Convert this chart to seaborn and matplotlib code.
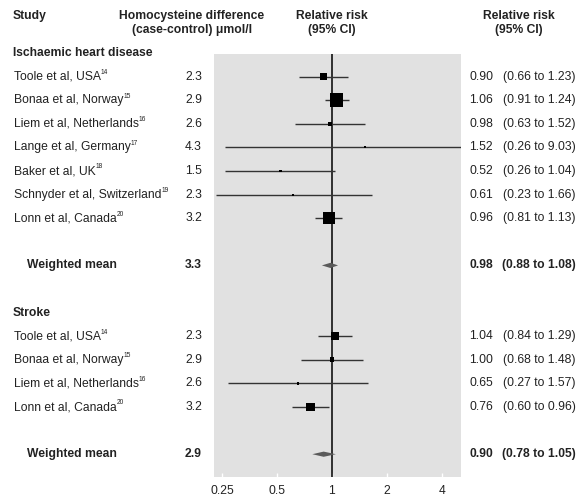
import numpy as np
import pandas as pd
import seaborn as sns
import matplotlib.pyplot as plt
import matplotlib.font_manager as fm
from matplotlib.transforms import blended_transform_factory

# ---- data ----
ihd_studies = ["Toole et al, USA", "Bonaa et al, Norway", "Liem et al, Netherlands",
               "Lange et al, Germany", "Baker et al, UK", "Schnyder et al, Switzerland",
               "Lonn et al, Canada"]
ihd_refs = ["14", "15", "16", "17", "18", "19", "20"]
ihd_diff = [2.3, 2.9, 2.6, 4.3, 1.5, 2.3, 3.2]
ihd_rr = [0.90, 1.06, 0.98, 1.52, 0.52, 0.61, 0.96]
ihd_lo = [0.66, 0.91, 0.63, 0.26, 0.26, 0.23, 0.81]
ihd_hi = [1.23, 1.24, 1.52, 9.03, 1.04, 1.66, 1.13]
ihd_mean = [3.3, 0.98, 0.88, 1.08]

stroke_studies = ["Toole et al, USA", "Bonaa et al, Norway", "Liem et al, Netherlands",
                  "Lonn et al, Canada"]
stroke_refs = ["14", "15", "16", "20"]
stroke_diff = [2.3, 2.9, 2.6, 3.2]
stroke_rr = [1.04, 1.00, 0.65, 0.76]
stroke_lo = [0.84, 0.68, 0.27, 0.60]
stroke_hi = [1.29, 1.48, 1.57, 0.96]
stroke_mean = [2.9, 0.90, 0.78, 1.05]

ticks = [0.25, 0.5, 1, 2, 4]
tick_labels = ["0.25", "0.5", "1", "2", "4"]

# box side in pixels (study weight)
ihd_box = [7, 13.5, 4, 2, 2.5, 2, 11.5]
stroke_box = [8, 4.7, 2.5, 8.5]


def pick_font():
    names = {f.name for f in fm.fontManager.ttflist}
    for n in ["Liberation Sans Narrow", "DejaVu Sans Condensed", "Liberation Sans"]:
        if n in names:
            return n
    return "DejaVu Sans"


sns.set_style("white")
FONT = pick_font()
plt.rcParams["font.family"] = [FONT, "DejaVu Sans"]
FS = 10 if "Narrow" in FONT else 8.7

# rows: header, studies, blank, mean, blank, next header ...
ihd_rows = list(range(1, 1 + len(ihd_studies)))
ihd_mean_row = ihd_rows[-1] + 2
stroke_head_row = ihd_mean_row + 2
stroke_rows = list(range(stroke_head_row + 1, stroke_head_row + 1 + len(stroke_studies)))
stroke_mean_row = stroke_rows[-1] + 2

df = pd.DataFrame({
    "study": ihd_studies + stroke_studies,
    "ref": ihd_refs + stroke_refs,
    "diff": ihd_diff + stroke_diff,
    "rr": ihd_rr + stroke_rr,
    "lo": ihd_lo + stroke_lo,
    "hi": ihd_hi + stroke_hi,
    "row": ihd_rows + stroke_rows,
    "box": ihd_box + stroke_box,
})

W, H = 581, 496
fig = plt.figure(figsize=(W / 100, H / 100), dpi=100)
ax = fig.add_axes([214 / W, (H - 477) / H, 247 / W, (477 - 54) / H])
ax.set_facecolor("#e1e1e1")
for s in ax.spines.values():
    s.set_visible(False)
ax.set_xscale("log")
ax.set_xlim(0.225, 5.11)
# row i sits at 53 + 23.6 * i pixels from the top
ax.set_ylim((477 - 53) / 23.6, (54 - 53) / 23.6)

# CI lines and reference line
ax.axvline(1, color="black", lw=1.1, zorder=2)
ax.hlines(df["row"], df["lo"], df["hi"], color="#333333", lw=1.0, zorder=2)

sns.scatterplot(data=df, x="rr", y="row", marker="s", s=(df["box"] * 0.72) ** 2,
                color="black", linewidth=0, zorder=3, ax=ax, legend=False)

# pooled diamonds
for row, (_, est, lo, hi) in [(ihd_mean_row, ihd_mean), (stroke_mean_row, stroke_mean)]:
    h = 0.11
    ax.fill([lo, est, hi, est], [row, row - h, row, row + h], color="#5a5a5a",
            lw=0, zorder=3)

ax.set_xlabel("")
ax.set_ylabel("")
ax.set_xticks(ticks)
ax.set_xticklabels(tick_labels)
ax.minorticks_off()
ax.set_yticks([])
ax.tick_params(axis="x", direction="in", length=3, width=1, color="white",
               pad=6, labelsize=FS, labelcolor="#222222", bottom=True)

# ---- text columns ----
tr = blended_transform_factory(fig.transFigure, ax.transData)
txt = dict(transform=tr, fontsize=FS, va="center", color="#222222", clip_on=False)
x_name, x_mean, x_diff, x_est, x_ci = 14 / W, 27 / W, 202 / W, 469 / W, 503 / W

ax.text(13 / W, 0, "Ischaemic heart disease", fontweight="bold", **txt)
ax.text(13 / W, stroke_head_row, "Stroke", fontweight="bold", **txt)

for _, r in df.iterrows():
    t = ax.text(x_name, r["row"], r["study"], **txt)
    ax.annotate(r["ref"], xy=(1.0, 0.55), xycoords=t, fontsize=FS * 0.55,
                va="bottom", ha="left", color="#222222")
    ax.text(x_diff, r["row"], f"{r['diff']:.1f}", ha="right", **txt)
    ax.text(x_est, r["row"], f"{r['rr']:.2f}", **txt)
    ax.text(x_ci, r["row"], f"({r['lo']:.2f} to {r['hi']:.2f})", **txt)

for row, (d, est, lo, hi) in [(ihd_mean_row, ihd_mean), (stroke_mean_row, stroke_mean)]:
    ax.text(x_mean, row, "Weighted mean", fontweight="bold", **txt)
    ax.text(x_diff, row, f"{d:.1f}", ha="right", fontweight="bold", **txt)
    ax.text(x_est, row, f"{est:.2f}", fontweight="bold", **txt)
    ax.text(x_ci - 1 / W, row, f"({lo:.2f} to {hi:.2f})", fontweight="bold", **txt)

# headers
hd = dict(fontsize=FS, fontweight="bold", va="center", color="#222222")
fig.text(13 / W, 1 - 16 / H, "Study", **hd)
fig.text(192 / W, 1 - 16 / H, "Homocysteine difference", ha="center", **hd)
fig.text(192 / W, 1 - 30 / H, "(case-control) μmol/l", ha="center", **hd)
fig.text(332 / W, 1 - 16 / H, "Relative risk", ha="center", **hd)
fig.text(332 / W, 1 - 30 / H, "(95% CI)", ha="center", **hd)
fig.text(519 / W, 1 - 16 / H, "Relative risk", ha="center", **hd)
fig.text(519 / W, 1 - 30 / H, "(95% CI)", ha="center", **hd)

fig.savefig("out.png", dpi=100, facecolor="white")
